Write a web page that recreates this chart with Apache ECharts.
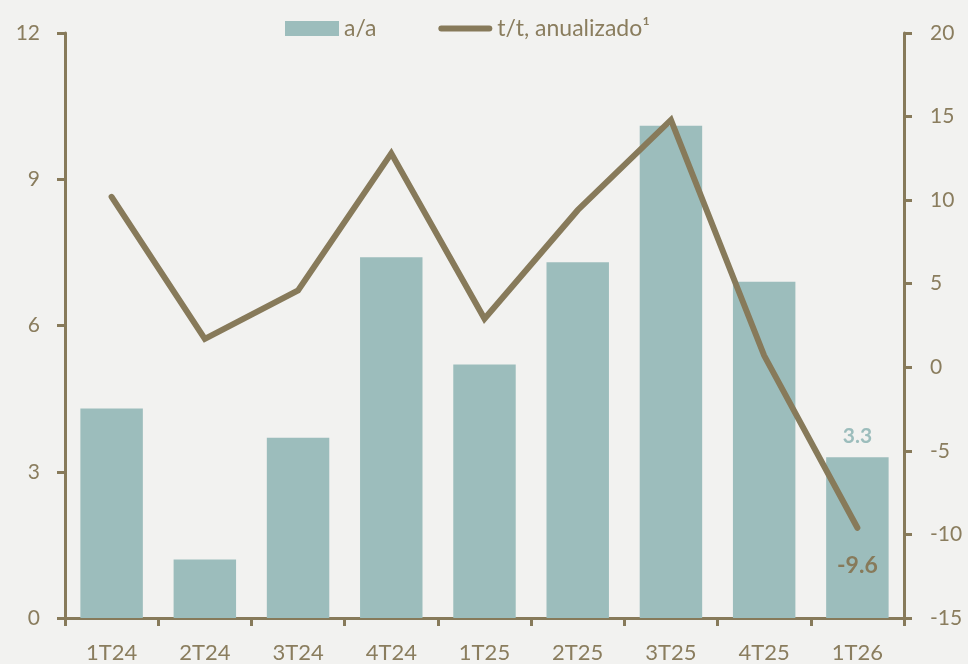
<!DOCTYPE html>
<html>
<head>
<meta charset="utf-8">
<script src="https://cdn.jsdelivr.net/npm/echarts@6/dist/echarts.min.js"></script>
<style>
  html, body { margin: 0; padding: 0; background: #f2f2f0; }
  #chart { width: 968px; height: 664px; }
</style>
</head>
<body>
<div id="chart"></div>
<script>
// datos
var categories = ['1T24', '2T24', '3T24', '4T24', '1T25', '2T25', '3T25', '4T25', '1T26'];
var yoy = [4.3, 1.2, 3.7, 7.4, 5.2, 7.3, 10.1, 6.9, 3.3];          // a/a
var qoqAnn = [10.2, 1.7, 4.6, 12.8, 2.9, 9.4, 14.8, 0.7, -9.6];   // t/t anualizado
var leftTicks = [0, 12, 3];
var rightTicks = [-15, 20, 5];

var brown = '#877a5a';
var teal = '#9cbdbc';
var textColor = '#8a7d5e';
var font = 'Lato';

var myChart = echarts.init(document.getElementById('chart'));

var option = {
  backgroundColor: '#f2f2f0',
  textStyle: { fontFamily: font },
  legend: {
    top: 12,
    left: 280,
    itemGap: 62,
    itemWidth: 54,
    itemHeight: 15,
    textStyle: { color: textColor, fontSize: 23, fontFamily: font },
    data: [
      { name: 'a/a', icon: 'rect' },
      { name: 't/t, anualizado¹', icon: 'path://M3,0 L51,0 A3,3 0 0 1 51,6 L3,6 A3,3 0 0 1 3,0 Z' },
    ],
  },
  grid: { left: 65, right: 64, top: 33, bottom: 44 },
  xAxis: {
    type: 'category',
    data: categories,
    axisLine: { lineStyle: { color: brown, width: 3 } },
    axisTick: { show: true, length: 8, lineStyle: { color: brown, width: 3 } },
    axisLabel: { color: textColor, fontSize: 22, margin: 24 },
  },
  yAxis: [
    {
      type: 'value',
      min: leftTicks[0],
      max: leftTicks[1],
      interval: leftTicks[2],
      position: 'left',
      splitLine: { show: false },
      axisLine: { show: true, lineStyle: { color: brown, width: 3 } },
      axisTick: { show: true, length: 8, lineStyle: { color: brown, width: 3 } },
      axisLabel: { color: textColor, fontSize: 21, margin: 25 },
    },
    {
      type: 'value',
      min: rightTicks[0],
      max: rightTicks[1],
      interval: rightTicks[2],
      position: 'right',
      splitLine: { show: false },
      axisLine: { show: true, lineStyle: { color: brown, width: 3 } },
      axisTick: { show: true, length: 8, lineStyle: { color: brown, width: 3 } },
      axisLabel: { color: textColor, fontSize: 21, margin: 26 },
    },
  ],
  series: [
    {
      name: 'a/a',
      type: 'bar',
      yAxisIndex: 0,
      barCategoryGap: '33%',
      itemStyle: { color: teal },
      data: yoy.map(function (v, i) {
        if (i === yoy.length - 1) {
          return {
            value: v,
            label: {
              show: true,
              position: 'top',
              distance: 10,
              color: teal,
              fontWeight: 'bold',
              fontSize: 21,
            },
          };
        }
        return v;
      }),
      z: 1,
    },
    {
      name: 't/t, anualizado¹',
      type: 'line',
      yAxisIndex: 1,
      symbol: 'none',
      lineStyle: { color: brown, width: 6, cap: 'round', join: 'miter' },
      itemStyle: { color: brown },
      data: qoqAnn.map(function (v, i) {
        if (i === qoqAnn.length - 1) {
          return {
            value: v,
            symbol: 'circle',
            symbolSize: 1,
            label: {
              show: true,
              position: 'bottom',
              distance: 26,
              color: brown,
              fontWeight: 'bold',
              fontSize: 23,
            },
          };
        }
        return v;
      }),
      z: 3,
    },
  ],
};

myChart.setOption(option);
</script>
</body>
</html>
